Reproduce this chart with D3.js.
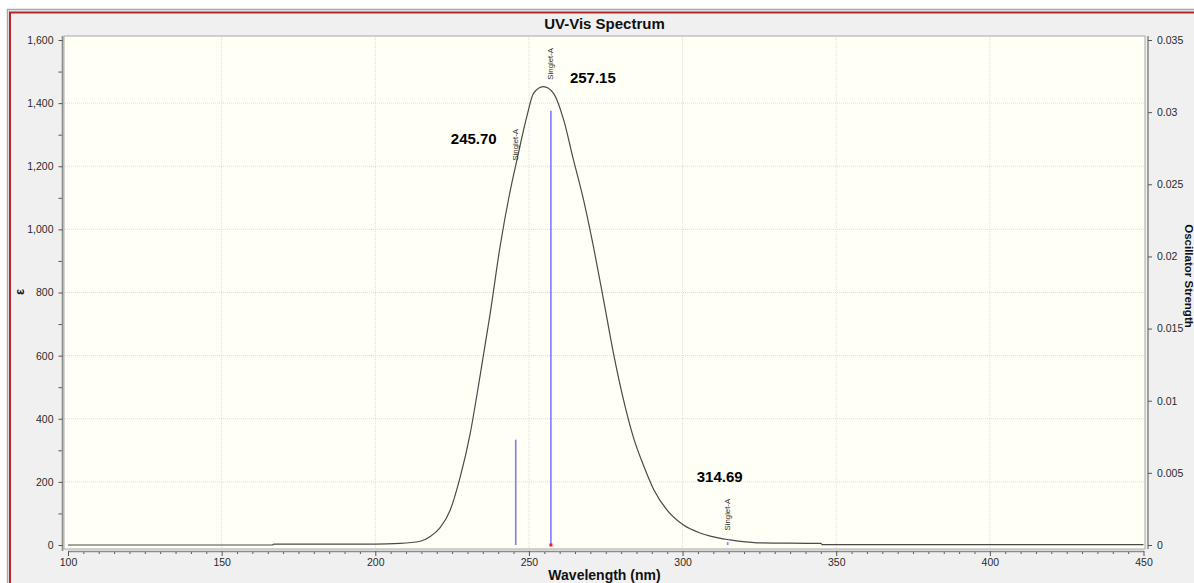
<!DOCTYPE html>
<html>
<head>
<meta charset="utf-8">
<script src="https://cdn.jsdelivr.net/npm/d3@7"></script>
<style>
	body { margin: 0; background: #fff; }
	svg { display: block; }
	text { font-family: "Liberation Sans", Arial, sans-serif; }
</style>
</head>
<body>
<script>
// simulated spectrum
var wavelength = [100, 166.5, 167, 200, 208, 214.6, 217.9, 221.1, 224.4, 227.6, 230.9, 234.1, 237.4, 240.6, 243.9, 246.1, 249.3, 251.5, 254.7, 258.0, 261.3, 264.5, 267.8, 271.0, 274.3, 277.5, 280.8, 284.1, 287.3, 290.6, 294.9, 300.3, 305.7, 309.0, 315.5, 324.2, 345, 345.5, 450]
var epsilon = [0, 0, 3, 3, 5, 12, 27, 55, 111, 214, 354, 536, 734, 945, 1122, 1220, 1357, 1431, 1452, 1431, 1347, 1220, 1093, 945, 776, 608, 459, 338, 252, 176, 111, 63, 38, 28, 16, 7, 5, 1, 1]

// excited states (sticks)
var peakWavelength = [245.70, 257.15, 314.69]
var peakStrength = [0.0073, 0.0301, 0.0002]
var peakState = ['Singlet-A', 'Singlet-A', 'Singlet-A']

var xTicks = [100, 150, 200, 250, 300, 350, 400, 450]
var yTicks = [0, 200, 400, 600, 800, 1000, 1200, 1400, 1600]
var y2Ticks = [0, 0.005, 0.01, 0.015, 0.02, 0.025, 0.03, 0.035]

// where the peak labels sit (pixels, relative to the stick / curve)
var labelLayout = [
	{gap: 5, dx: -19, dy: -17, anchor: 'end'},
	{gap: 12, dx: 19, dy: 3, anchor: 'start'},
	{gap: 9, dx: -8, dy: -48, anchor: 'middle'}
]

var width = 1194,
	height = 583

var svg = d3.select('body').append('svg')
	.attr('width', width)
	.attr('height', height)

// outer panel
svg.append('rect')
	.attr('x', 7.5).attr('y', 9.5)
	.attr('width', width).attr('height', height)
	.attr('fill', '#f0f0f0')
	.attr('stroke', '#a9a9a9')
	.attr('stroke-width', 1.5)
svg.append('rect')
	.attr('x', 10).attr('y', 12.5)
	.attr('width', width).attr('height', height)
	.attr('fill', 'none')
	.attr('stroke', '#b3262a')
	.attr('stroke-width', 2)

var frame = {left: 64, top: 36, right: 1145, bottom: 549}

var x = d3.scaleLinear().domain([100, 450]).range([68, 1143.5])
var y = d3.scaleLinear().domain([0, 1600]).range([545, 40])
var y2 = d3.scaleLinear().domain([0, 0.035]).range([545, 40])

svg.append('rect')
	.attr('x', frame.left).attr('y', frame.top)
	.attr('width', frame.right - frame.left)
	.attr('height', frame.bottom - frame.top)
	.attr('fill', '#fffff6')
	.attr('stroke', '#a8a8a8')
	.attr('stroke-width', 1)

// grid
svg.append('g').selectAll('line')
	.data(xTicks.slice(1, -1))
	.enter().append('line')
		.attr('x1', d => x(d)).attr('x2', d => x(d))
		.attr('y1', frame.top + 1).attr('y2', frame.bottom - 1)
		.attr('stroke', '#dcdcdc')
		.attr('stroke-dasharray', '1,1')
svg.append('g').selectAll('line')
	.data(yTicks.slice(1, -1))
	.enter().append('line')
		.attr('y1', d => y(d)).attr('y2', d => y(d))
		.attr('x1', frame.left + 1).attr('x2', frame.right - 1)
		.attr('stroke', '#dcdcdc')
		.attr('stroke-dasharray', '1,1')

// axes
function styleAxis(g) {
	g.select('.domain').attr('stroke', '#8c8c8c').attr('stroke-width', 1.6)
	g.selectAll('.tick line').attr('stroke', '#555')
	g.selectAll('.tick text')
		.attr('fill', '#2a2a2a')
		.style('font-family', '"Liberation Sans", Arial, sans-serif')
		.style('font-size', '10.5px')
}

var minorX = d3.range(100, 451, 5).filter(d => xTicks.indexOf(d) < 0)
var minorY = d3.range(100, 1600, 200)

svg.append('g')
	.attr('transform', 'translate(0,551)')
	.call(d3.axisBottom(x).tickValues(minorX).tickSize(3).tickFormat('').tickSizeOuter(0))
	.call(g => g.select('.domain').remove())
	.selectAll('line').attr('stroke', '#555')

svg.append('g')
	.attr('transform', 'translate(0,551)')
	.call(d3.axisBottom(x).tickValues(xTicks).tickSize(5).tickSizeOuter(0).tickPadding(3))
	.call(styleAxis)

svg.append('g')
	.attr('transform', 'translate(62.5,0)')
	.call(d3.axisLeft(y).tickValues(minorY).tickSize(4).tickFormat(''))
	.call(g => g.select('.domain').remove())
	.selectAll('line').attr('stroke', '#555')

svg.append('g')
	.attr('transform', 'translate(62.5,0)')
	.call(d3.axisLeft(y).tickValues(yTicks).tickSize(4).tickSizeOuter(0).tickPadding(5).tickFormat(d3.format(',')))
	.call(styleAxis)
	.select('.domain').attr('d', 'M0,' + frame.top + 'V' + 551)

svg.append('g')
	.attr('transform', 'translate(1148,0)')
	.call(d3.axisRight(y2).tickValues(y2Ticks).tickSize(4).tickSizeOuter(0).tickPadding(5)
		.tickFormat(d => String(+d.toFixed(3))))
	.call(styleAxis)
	.select('.domain').attr('d', 'M0,' + frame.top + 'V' + frame.bottom)

// curve
var line = d3.line()
	.x((d, i) => x(wavelength[i]))
	.y(d => y(d))
	.curve(d3.curveMonotoneX)

svg.append('path')
	.attr('d', line(epsilon))
	.attr('fill', 'none')
	.attr('stroke', '#4a4a4a')
	.attr('stroke-width', 1.2)

// sticks
svg.append('g').selectAll('line')
	.data(peakWavelength)
	.enter().append('line')
		.attr('x1', d => x(d)).attr('x2', d => x(d))
		.attr('y1', y2(0)).attr('y2', (d, i) => y2(peakStrength[i]))
		.attr('stroke', '#7c7cff')
		.attr('stroke-width', 1.6)

// selected transition marker
var maxIdx = d3.maxIndex(peakStrength)
svg.append('rect')
	.attr('x', x(peakWavelength[maxIdx]) - 1.5)
	.attr('y', y2(0) - 1.5)
	.attr('width', 3).attr('height', 3)
	.attr('fill', '#ff1a1a')

function curveAt(w) {
	var i = d3.bisectLeft(wavelength, w)
	var t = (w - wavelength[i - 1]) / (wavelength[i] - wavelength[i - 1])
	return epsilon[i - 1] + t * (epsilon[i] - epsilon[i - 1])
}

// labels
peakWavelength.forEach(function (w, i) {
	var lay = labelLayout[i]
	var px = x(w)
	var bottom = y(curveAt(w)) - lay.gap

	svg.append('text')
		.attr('transform', 'translate(' + px + ',' + bottom + ') rotate(-90)')
		.attr('dominant-baseline', 'middle')
		.style('font-size', '7.8px')
		.attr('fill', '#2a2a2a')
		.text(peakState[i])

	svg.append('text')
		.attr('x', px + lay.dx)
		.attr('y', bottom + lay.dy)
		.attr('text-anchor', lay.anchor)
		.style('font-size', '15px')
		.style('font-weight', 'bold')
		.attr('fill', '#000')
		.text(w.toFixed(2))
})

// titles
svg.append('text')
	.attr('x', (frame.left + frame.right) / 2)
	.attr('y', 29)
	.attr('text-anchor', 'middle')
	.style('font-size', '15px')
	.style('font-weight', 'bold')
	.attr('fill', '#111')
	.text('UV-Vis Spectrum')

svg.append('text')
	.attr('x', (frame.left + frame.right) / 2)
	.attr('y', 580)
	.attr('text-anchor', 'middle')
	.style('font-size', '14px')
	.style('font-weight', 'bold')
	.attr('fill', '#111')
	.text('Wavelength (nm)')

svg.append('text')
	.attr('transform', 'translate(24,292) rotate(-90)')
	.attr('text-anchor', 'middle')
	.style('font-size', '13px')
	.style('font-weight', 'bold')
	.attr('fill', '#111')
	.text('ε')

svg.append('text')
	.attr('transform', 'translate(1185,276) rotate(90)')
	.attr('text-anchor', 'middle')
	.style('font-size', '11.5px')
	.style('font-weight', 'bold')
	.attr('fill', '#111')
	.text('Oscillator Strength')
</script>
</body>
</html>
